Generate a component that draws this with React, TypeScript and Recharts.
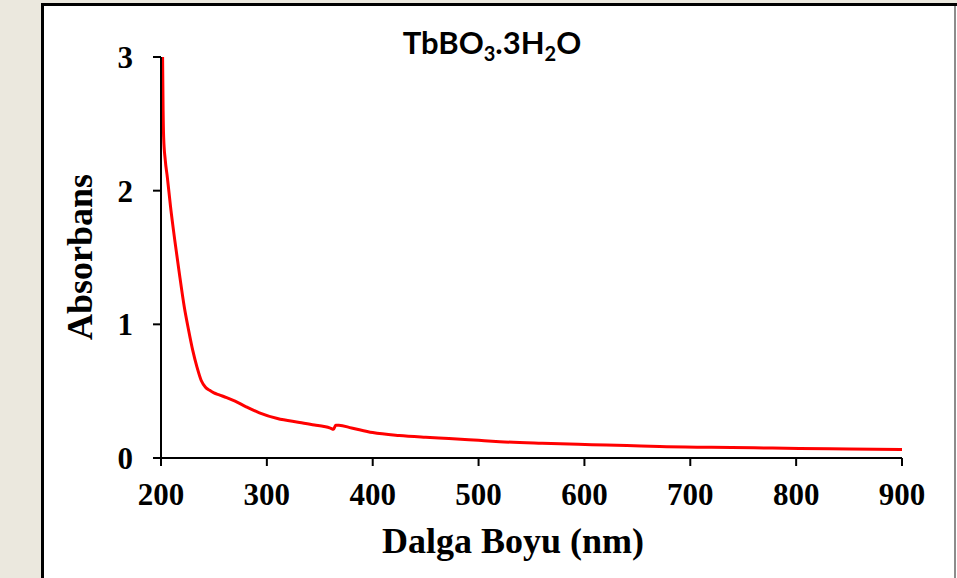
import { LineChart, Line, XAxis, YAxis } from 'recharts'

// Dalga boyu (nm) ve absorbans değerleri
const wavelengths = [
  201.5, 202, 202.5, 204, 206, 209, 213, 217, 222, 226, 230, 234, 238, 242, 246, 250, 255, 262, 270, 280,
  293, 310, 331, 345, 354, 360, 363, 365, 368, 380, 400, 425, 450, 472, 500, 520, 560, 607, 640, 671,
  720, 760, 803, 850, 900,
]
const absorbance = [
  3.0, 2.6, 2.4, 2.23, 2.1, 1.88, 1.63, 1.4, 1.13, 0.96, 0.805, 0.68, 0.58, 0.53, 0.506, 0.487, 0.472, 0.452, 0.425, 0.385,
  0.338, 0.295, 0.266, 0.247, 0.236, 0.224, 0.215, 0.245, 0.245, 0.225, 0.19, 0.168, 0.155, 0.146, 0.132, 0.122, 0.11, 0.1, 0.094, 0.086,
  0.08, 0.076, 0.071, 0.068, 0.064,
]
const xTicks = [200, 300, 400, 500, 600, 700, 800, 900]
const yTicks = [0, 1, 2, 3]

const xTitle = 'Dalga Boyu (nm)'
const yTitle = 'Absorbans'

const chartData = wavelengths.map((w, i) => ({ w, a: absorbance[i] }))

const serif = '"Liberation Serif", "Times New Roman", serif'
const tickStyle = { fill: '#000', fontFamily: serif, fontWeight: 700, fontSize: 31 }

export default function App() {
  return (
    <div style={{ position: 'absolute', left: 0, top: 0, width: 957, height: 578, background: '#ebe8de', overflow: 'hidden' }}>
      {/* moldura branca */}
      <div
        style={{
          position: 'absolute',
          left: 41,
          top: 3,
          width: 916,
          height: 580,
          background: '#fff',
          borderLeft: '3px solid #000',
          borderTop: '3px solid #000',
          boxSizing: 'border-box',
        }}
      />
      <div style={{ position: 'absolute', left: 954, top: 6, width: 2, height: 572, background: '#8c8c8c' }} />

      <div style={{ position: 'absolute', left: 0, top: 0 }}>
        <LineChart width={957} height={578} data={chartData} margin={{ top: 57, right: 55, bottom: 60, left: 0 }}>
          <XAxis
            dataKey="w"
            type="number"
            domain={[200, 900]}
            ticks={xTicks}
            allowDataOverflow
            height={60}
            stroke="#000"
            strokeWidth={2}
            tickSize={8}
            tickMargin={17}
            tick={tickStyle}
            tickLine={{ stroke: '#000', strokeWidth: 2 }}
          />
          <YAxis
            type="number"
            domain={[0, 3]}
            ticks={yTicks}
            allowDataOverflow
            width={161}
            stroke="#000"
            strokeWidth={2}
            tickSize={8}
            tickMargin={20}
            tick={tickStyle}
            tickLine={{ stroke: '#000', strokeWidth: 2 }}
          />
          <Line
            type="monotone"
            dataKey="a"
            stroke="#ff0000"
            strokeWidth={3}
            dot={false}
            isAnimationActive={false}
          />
        </LineChart>
      </div>

      {/* títulos */}
      <svg width={957} height={578} style={{ position: 'absolute', left: 0, top: 0, pointerEvents: 'none' }}>
        <text x={492} y={54} textAnchor="middle" fontFamily="Lato, 'Open Sans', sans-serif" fontWeight={700} fontSize={31} fill="#000">
          TbBO
          <tspan fontSize={20} dy={7}>3</tspan>
          <tspan dy={-7}>.3H</tspan>
          <tspan fontSize={20} dy={7}>2</tspan>
          <tspan dy={-7}>O</tspan>
        </text>
        <text x={513} y={553} textAnchor="middle" fontFamily={serif} fontWeight={700} fontSize={36} fill="#000">
          {xTitle}
        </text>
        <text x={92} y={257} transform="rotate(-90, 92, 257)" textAnchor="middle" fontFamily={serif} fontWeight={700} fontSize={36} fill="#000">
          {yTitle}
        </text>
      </svg>
    </div>
  )
}
